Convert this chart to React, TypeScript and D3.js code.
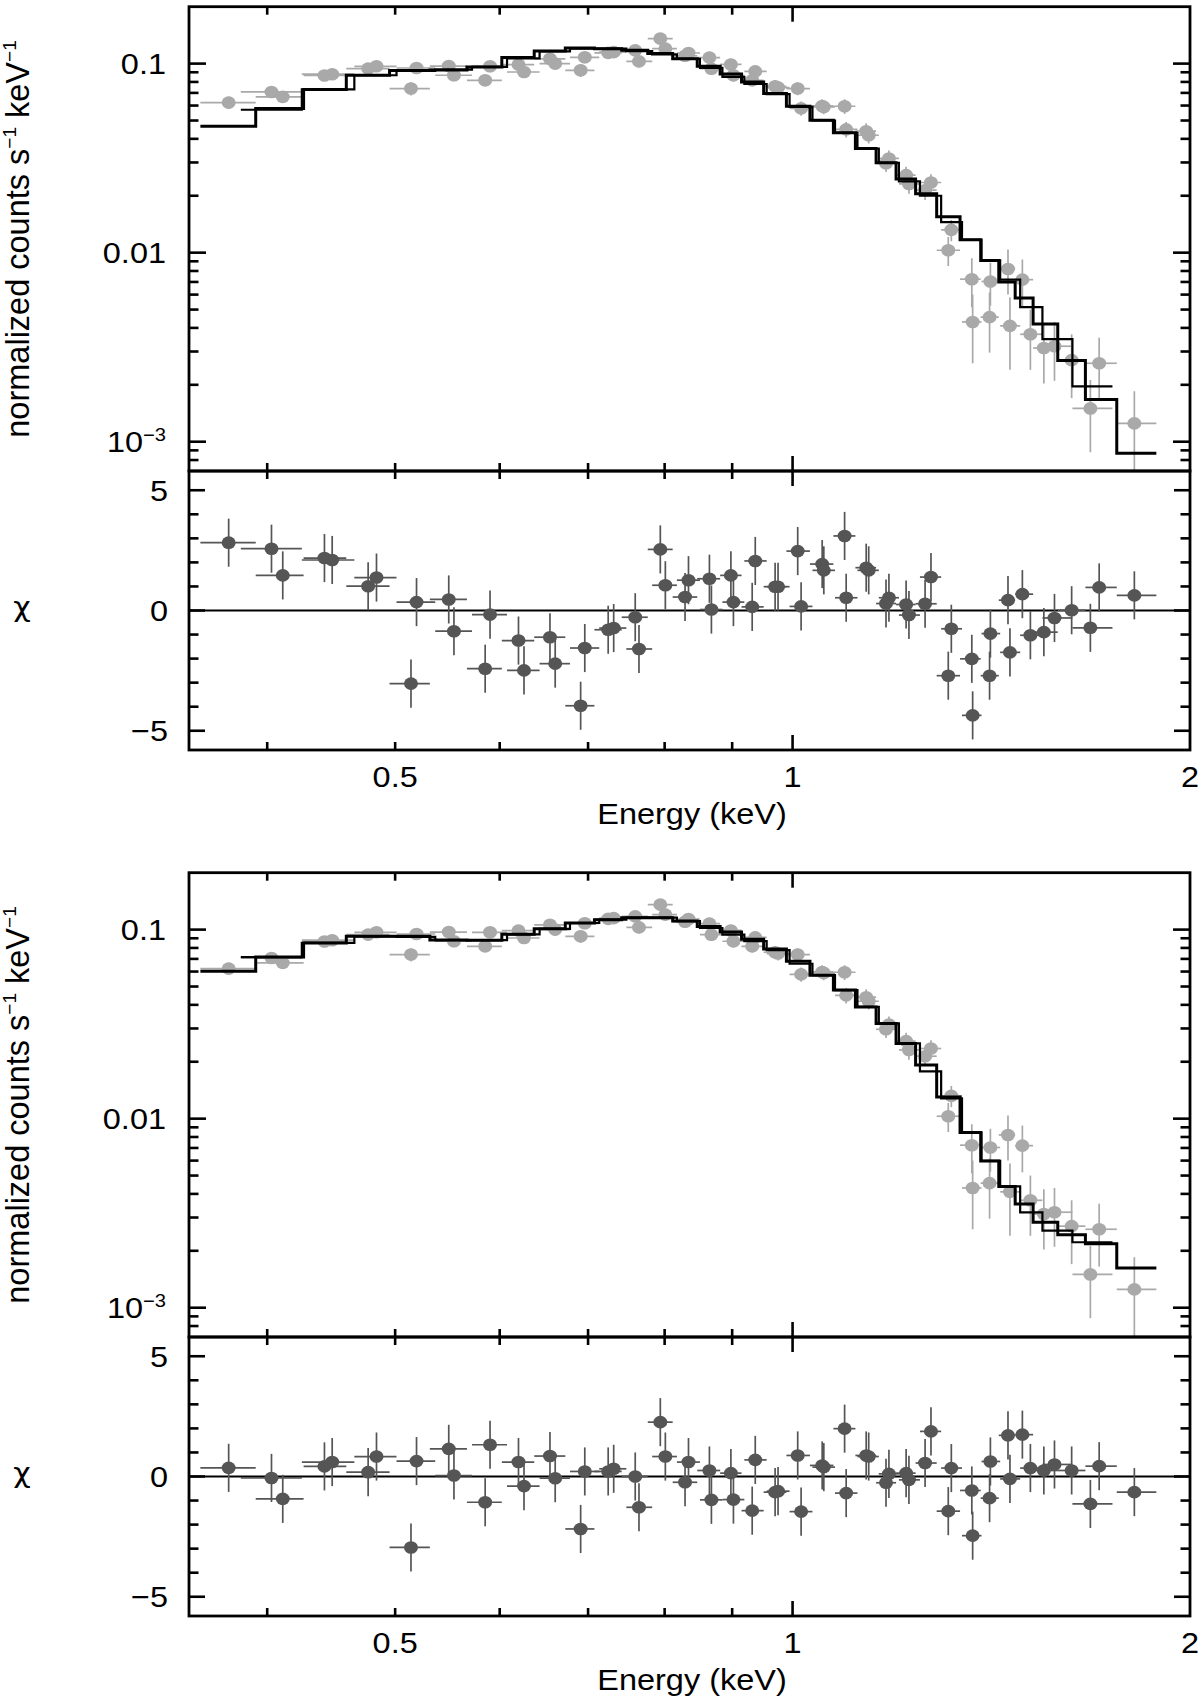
import * as d3 from "d3";

// ---- data (energies in keV) ----
const energy = [
  0.374, 0.403, 0.411, 0.442, 0.448, 0.477, 0.484, 0.519, 0.514, 0.549,
  0.554, 0.590, 0.585, 0.620, 0.626, 0.655, 0.661, 0.696, 0.691, 0.725,
  0.732, 0.760, 0.765, 0.794, 0.801, 0.829, 0.834, 0.865, 0.868, 0.898,
  0.902, 0.932, 0.937, 0.970, 0.975, 1.009, 1.015, 1.053, 1.056, 1.095,
  1.098, 1.137, 1.142, 1.183, 1.177, 1.219, 1.225, 1.260, 1.273, 1.319,
  1.312, 1.367, 1.369, 1.412, 1.410, 1.456, 1.461, 1.493, 1.514, 1.550,
  1.579, 1.627, 1.681, 1.707, 1.815,
];

// which of the two spectra each bin belongs to
const group = "ABAABABBAABBAABABBAABABABABABABABABABABABABBAABABBAABBAABABABABAA".split("");

const rate = [
  0.0622, 0.0708, 0.0667, 0.0865, 0.0879, 0.0941, 0.0968, 0.0948, 0.0738, 0.0971,
  0.0868, 0.0968, 0.0816, 0.0988, 0.0903, 0.106, 0.100, 0.108, 0.0922, 0.114,
  0.115, 0.1175, 0.1028, 0.1355, 0.120, 0.110, 0.1138, 0.1076, 0.094, 0.099,
  0.0868, 0.0816, 0.091, 0.0759, 0.0747, 0.0738, 0.058, 0.0597, 0.059, 0.0595,
  0.0449, 0.0439, 0.0418, 0.0315, 0.0297, 0.0257, 0.0231, 0.0214, 0.0235, 0.0132,
  0.0103, 0.00724, 0.0043, 0.00704, 0.00456, 0.0082, 0.0041, 0.0072, 0.0037, 0.00313,
  0.0032, 0.0027, 0.0015, 0.0026, 0.00125,
];

const rateErr = [
  0.0045, 0.005, 0.0048, 0.006, 0.006, 0.0065, 0.0066, 0.0065, 0.006, 0.0068,
  0.0062, 0.0068, 0.006, 0.007, 0.0065, 0.0075, 0.0072, 0.0075, 0.0072, 0.008,
  0.008, 0.008, 0.0075, 0.009, 0.0085, 0.008, 0.008, 0.0078, 0.007, 0.0072,
  0.0066, 0.0062, 0.0068, 0.006, 0.006, 0.0058, 0.005, 0.005, 0.005, 0.0053,
  0.0042, 0.0045, 0.004, 0.0032, 0.003, 0.0028, 0.0026, 0.0024, 0.0025, 0.0017,
  0.0018, 0.0021, 0.0017, 0.0018, 0.0016, 0.0022, 0.0017, 0.002, 0.0013, 0.0011,
  0.0011, 0.001, 0.00062, 0.00095, 0.0006,
];

const modelTop = [
  0.0467, 0.057, 0.0578, 0.0729, 0.073, 0.0868, 0.0868, 0.0915, 0.092, 0.0925,
  0.093, 0.096, 0.096, 0.1076, 0.1065, 0.1165, 0.116, 0.12, 0.1208, 0.12,
  0.12, 0.1175, 0.1165, 0.113, 0.112, 0.1062, 0.106, 0.0968, 0.095, 0.088,
  0.085, 0.080, 0.078, 0.0695, 0.069, 0.0595, 0.059, 0.0502, 0.050, 0.0431,
  0.043, 0.0356, 0.0355, 0.0299, 0.0299, 0.0245, 0.0238, 0.0205, 0.0200, 0.0145,
  0.0155, 0.0117, 0.0117, 0.0091, 0.0091, 0.0070, 0.0072, 0.00575, 0.00515, 0.0042,
  0.00349, 0.00269, 0.00196, 0.00167, 0.00087,
];

const modelBottom = [
  0.0602, 0.0716, 0.0716, 0.085, 0.085, 0.0922, 0.0922, 0.0915, 0.0922, 0.088,
  0.088, 0.0879, 0.0879, 0.0944, 0.0944, 0.101, 0.101, 0.1084, 0.1084, 0.1129,
  0.1129, 0.1156, 0.1156, 0.1156, 0.1156, 0.111, 0.111, 0.104, 0.102, 0.097,
  0.094, 0.089, 0.087, 0.079, 0.0778, 0.068, 0.066, 0.0574, 0.0574, 0.0479,
  0.0479, 0.039, 0.039, 0.0319, 0.0319, 0.025, 0.025, 0.0192, 0.0178, 0.0128,
  0.013, 0.00845, 0.00845, 0.00598, 0.00598, 0.00438, 0.00438, 0.00354, 0.00319, 0.00283,
  0.00256, 0.00243, 0.00222, 0.00218, 0.00162,
];

const chiTop = [
  2.82, 2.57, 1.46, 2.18, 2.1, 1.01, 1.37, 0.35, -3.04, 0.46,
  -0.86, -0.17, -2.42, -1.25, -2.49, -1.11, -2.21, -1.56, -3.96, -0.8,
  -0.73, -0.28, -1.6, 2.54, 1.05, 0.56, 1.26, 1.32, 0.04, 1.46,
  0.35, 0.15, 2.06, 0.99, 0.99, 2.47, 0.17, 1.93, 1.67, 3.1,
  0.53, 1.78, 1.67, 0.53, 0.29, 0.25, -0.19, 0.28, 1.39, -0.76,
  -2.71, -2.01, -4.36, -0.96, -2.71, 0.43, -1.74, 0.68, -1.03, -0.9,
  -0.31, 0.01, -0.72, 0.96, 0.63,
];

const chiBottom = [
  0.36, -0.06, -0.93, 0.42, 0.6, 0.18, 0.83, 0.64, -2.95, 1.15,
  0.04, 1.32, -1.07, 0.6, -0.4, 0.85, -0.07, 0.21, -2.18, 0.21,
  0.32, 0.0, -1.28, 2.26, 0.83, -0.24, 0.6, 0.25, -0.97, 0.14,
  -0.96, -1.42, 0.69, -0.65, -0.61, 0.875, -1.46, 0.46, 0.39, 1.99,
  -0.69, 0.875, 0.83, 0.11, -0.26, 0.14, -0.14, 0.56, 1.875, 0.35,
  -1.44, -0.58, -2.46, 0.625, -0.9, 1.71, -0.1, 1.74, 0.35, 0.25,
  0.5, 0.25, -1.14, 0.43, -0.65,
];

// half widths of the outermost bins of each spectrum
const firstHalf: Record<string, number> = { A: 0.018, B: 0.021 };
const lastHalf: Record<string, number> = { A: 0.071, B: 0.066 };

const xLabelValues = [0.5, 1, 2];
const xLabelText = ["0.5", "1", "2"];
const specLabelValues = [0.1, 0.01, 0.001];
const residLabelValues = [5, 0, -5];
const residLabelText = ["5", "0", "\u22125"];

// ---- layout ----
const W = 1200;
const H = 1701;
const X0 = 189;
const X1 = 1190;
const SX = 1.12; // lettering in the reference is slightly widened
const FONT = "'Liberation Sans', Arial, Helvetica, sans-serif";
const SPEC_GREY = "#a9a9a9";
const RES_GREY = "#555555";

const xScale = d3.scaleLog().domain([0.349, 2]).range([X0, X1]);

// bin edges: geometric midpoints between neighbouring bins of the same spectrum
const lo: number[] = new Array(energy.length);
const hi: number[] = new Array(energy.length);
["A", "B"].forEach((g) => {
  const idx = energy
    .map((_, i) => i)
    .filter((i) => group[i] === g)
    .sort((a, b) => energy[a] - energy[b]);
  idx.forEach((i, k) => {
    lo[i] = k === 0 ? energy[i] - firstHalf[g] : Math.sqrt(energy[idx[k - 1]] * energy[i]);
    hi[i] = k === idx.length - 1 ? energy[i] + lastHalf[g] : Math.sqrt(energy[i] * energy[idx[k + 1]]);
  });
});

function Label({ x, y, anchor = "middle", size = 29, family = FONT, children }: any) {
  return (
    <g transform={`translate(${x},${y}) scale(${SX},1)`}>
      <text x={0} y={0} textAnchor={anchor} fontSize={size} fontFamily={family} fill="#000">
        {children}
      </text>
    </g>
  );
}

function Figure({ dy, model, chi, id }: { dy: number; model: number[]; chi: number[]; id: string }) {
  const sTop = 6.7 + dy;
  const sBot = 471 + dy;
  const rBot = 750 + dy;

  const yS = d3.scaleLog().domain([7e-4, 0.2]).range([sBot, sTop]);
  const rS = d3.scaleLinear().domain([-5.8, 5.8]).range([rBot, sBot]);

  const xTicks = xScale.ticks().filter((t) => t > 0.35 && t < 1.99);
  const yTicks = yS.ticks().filter((t) => t > 7.01e-4 && t < 0.199);
  const rTicks = d3.range(-5, 6);
  const isDecade = (t: number) => Math.abs(Math.log10(t) - Math.round(Math.log10(t))) < 1e-6;

  const line = d3
    .line<[number, number]>()
    .x((d) => xScale(d[0]))
    .y((d) => yS(d[1]));

  const steps = ["A", "B"].map((g) => {
    const idx = energy
      .map((_, i) => i)
      .filter((i) => group[i] === g)
      .sort((a, b) => energy[a] - energy[b]);
    const pts: [number, number][] = idx.flatMap((i) => [
      [lo[i], model[i]] as [number, number],
      [hi[i], model[i]] as [number, number],
    ]);
    return line(pts) ?? "";
  });

  const xTickLines = (yEdge: number, dir: number) =>
    xTicks.map((t) => {
      const len = isDecade(t) ? 15 : 8;
      return (
        <line key={`${yEdge}-${t}`} x1={xScale(t)} x2={xScale(t)} y1={yEdge} y2={yEdge + dir * len} stroke="#000" strokeWidth={2.6} />
      );
    });

  return (
    <g>
      <defs>
        <clipPath id={`spec-${id}`}>
          <rect x={X0} y={sTop} width={X1 - X0} height={sBot - sTop} />
        </clipPath>
        <clipPath id={`res-${id}`}>
          <rect x={X0} y={sBot} width={X1 - X0} height={rBot - sBot} />
        </clipPath>
      </defs>

      {/* spectrum */}
      <g clipPath={`url(#spec-${id})`}>
        {energy.map((e, i) => (
          <g key={i} stroke={SPEC_GREY} strokeWidth={1.7}>
            <line x1={xScale(lo[i])} x2={xScale(hi[i])} y1={yS(rate[i])} y2={yS(rate[i])} />
            <line
              x1={xScale(e)}
              x2={xScale(e)}
              y1={yS(rate[i] + rateErr[i])}
              y2={yS(Math.max(rate[i] - rateErr[i], 1e-5))}
            />
          </g>
        ))}
        {energy.map((e, i) => (
          <ellipse key={i} cx={xScale(e)} cy={yS(rate[i])} rx={7} ry={6.3} fill={SPEC_GREY} />
        ))}
        <path d={steps[0]} fill="none" stroke="#000" strokeWidth={3} />
        <path d={steps[1]} fill="none" stroke="#000" strokeWidth={2.2} />
      </g>

      {/* residuals */}
      <line x1={X0} x2={X1} y1={rS(0)} y2={rS(0)} stroke="#000" strokeWidth={2.2} />
      <g clipPath={`url(#res-${id})`}>
        {energy.map((e, i) => (
          <g key={i} stroke={RES_GREY} strokeWidth={1.7}>
            <line x1={xScale(lo[i])} x2={xScale(hi[i])} y1={rS(chi[i])} y2={rS(chi[i])} />
            <line x1={xScale(e)} x2={xScale(e)} y1={rS(chi[i] + 1)} y2={rS(chi[i] - 1)} />
          </g>
        ))}
        {energy.map((e, i) => (
          <ellipse key={i} cx={xScale(e)} cy={rS(chi[i])} rx={7} ry={6.3} fill={RES_GREY} />
        ))}
      </g>

      {/* ticks */}
      {xTickLines(sTop, 1)}
      {xTickLines(sBot, -1)}
      {xTickLines(sBot, 1)}
      {xTickLines(rBot, -1)}
      {yTicks.map((t) => {
        const len = isDecade(t) ? 17 : 9.5;
        return (
          <g key={t} stroke="#000" strokeWidth={2.6}>
            <line x1={X0} x2={X0 + len} y1={yS(t)} y2={yS(t)} />
            <line x1={X1} x2={X1 - len} y1={yS(t)} y2={yS(t)} />
          </g>
        );
      })}
      {rTicks.map((t) => {
        const len = t % 5 === 0 ? 16 : 9.5;
        return (
          <g key={t} stroke="#000" strokeWidth={2.6}>
            <line x1={X0} x2={X0 + len} y1={rS(t)} y2={rS(t)} />
            <line x1={X1} x2={X1 - len} y1={rS(t)} y2={rS(t)} />
          </g>
        );
      })}

      {/* frames */}
      <rect x={X0} y={sTop} width={X1 - X0} height={sBot - sTop} fill="none" stroke="#000" strokeWidth={2.8} />
      <rect x={X0} y={sBot} width={X1 - X0} height={rBot - sBot} fill="none" stroke="#000" strokeWidth={2.8} />

      {/* tick labels */}
      {specLabelValues.map((v) => (
        <Label key={v} x={166} y={yS(v) + 10.5} anchor="end">
          {v >= 0.01 ? (
            String(v)
          ) : (
            <>
              10
              <tspan fontSize={18} dy={-11}>
                {"\u22123"}
              </tspan>
            </>
          )}
        </Label>
      ))}
      {residLabelValues.map((v, i) => (
        <Label key={v} x={168} y={rS(v) + 10.5} anchor="end">
          {residLabelText[i]}
        </Label>
      ))}
      {xLabelValues.map((v, i) => (
        <Label key={v} x={xScale(v)} y={rBot + 37}>
          {xLabelText[i]}
        </Label>
      ))}

      {/* axis titles */}
      <Label x={692} y={rBot + 74}>
        Energy (keV)
      </Label>
      <Label x={22} y={rS(0) + 5} size={27} family="'DejaVu Sans', sans-serif">
        {"\u03c7"}
      </Label>
      <g transform={`translate(29,${239 + dy}) rotate(-90)`}>
        <text x={0} y={0} textAnchor="middle" fontSize={32.5} fontFamily={FONT} fill="#000">
          normalized counts s
          <tspan fontSize={19} dy={-13}>
            {"\u22121"}
          </tspan>
          <tspan dy={13}> keV</tspan>
          <tspan fontSize={19} dy={-13}>
            {"\u22121"}
          </tspan>
        </text>
      </g>
    </g>
  );
}

export default function App() {
  return (
    <svg
      width={W}
      height={H}
      viewBox={`0 0 ${W} ${H}`}
      style={{ position: "absolute", left: 0, top: 0, background: "#fff" }}
    >
      <rect x={0} y={0} width={W} height={H} fill="#fff" />
      <Figure dy={0} model={modelTop} chi={chiTop} id="a" />
      <Figure dy={866} model={modelBottom} chi={chiBottom} id="b" />
    </svg>
  );
}
